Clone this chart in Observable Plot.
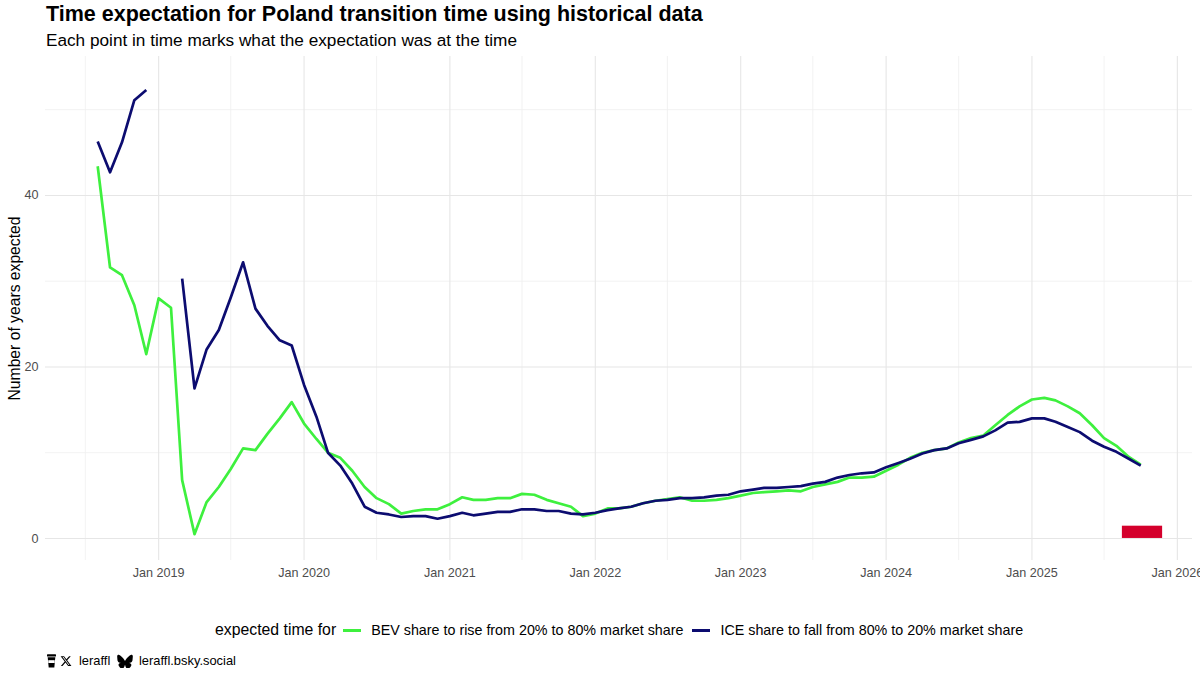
<!DOCTYPE html>
<html>
<head>
<meta charset="utf-8">
<script src="https://cdn.jsdelivr.net/npm/d3@7"></script>
<script src="https://cdn.jsdelivr.net/npm/@observablehq/plot@0.6"></script>
<style>
  html, body { margin: 0; padding: 0; background: #fff; overflow: hidden; }
  body { font-family: "Liberation Sans", Arial, Helvetica, sans-serif; color: #000; }
  #page { position: relative; width: 1200px; height: 675px; }
  .abs { position: absolute; white-space: nowrap; line-height: 1; }
  #title { left: 46px; top: 4px; font-size: 21.5px; font-weight: bold; }
  #subtitle { left: 46px; top: 31.5px; font-size: 17.2px; }
  #chart { position: absolute; left: 0; top: 52px; }
  #legend { left: 215px; top: 620px; height: 20px; display: flex; align-items: center; }
  #legend .ttl { font-size: 15.8px; }
  #legend .lab { font-size: 14.3px; margin-left: 10px; }
  #legend .key { display: inline-block; width: 18px; height: 3px; }
  .cap { font-size: 12.9px; }
</style>
</head>
<body>
<div id="page">
  <div id="title" class="abs">Time expectation for Poland transition time using historical data</div>
  <div id="subtitle" class="abs">Each point in time marks what the expectation was at the time</div>
  <div id="chart"></div>
  <div id="legend" class="abs"></div>
  <div id="caption"></div>
</div>
<script>
// ---- data ----
const months = [
  "2018-08","2018-09","2018-10","2018-11","2018-12",
  "2019-01","2019-02","2019-03","2019-04","2019-05","2019-06","2019-07","2019-08","2019-09","2019-10","2019-11","2019-12",
  "2020-01","2020-02","2020-03","2020-04","2020-05","2020-06","2020-07","2020-08","2020-09","2020-10","2020-11","2020-12",
  "2021-01","2021-02","2021-03","2021-04","2021-05","2021-06","2021-07","2021-08","2021-09","2021-10","2021-11","2021-12",
  "2022-01","2022-02","2022-03","2022-04","2022-05","2022-06","2022-07","2022-08","2022-09","2022-10","2022-11","2022-12",
  "2023-01","2023-02","2023-03","2023-04","2023-05","2023-06","2023-07","2023-08","2023-09","2023-10","2023-11","2023-12",
  "2024-01","2024-02","2024-03","2024-04","2024-05","2024-06","2024-07","2024-08","2024-09","2024-10","2024-11","2024-12",
  "2025-01","2025-02","2025-03","2025-04","2025-05","2025-06","2025-07","2025-08","2025-09","2025-10"
];
const bevYears = [
  43.4, 31.6, 30.7, 27.2, 21.5,
  28.0, 26.9, 6.8, 0.5, 4.2, 6.0, 8.1, 10.5, 10.3, 12.2, 14.0, 15.9,
  13.4, 11.6, 10.0, 9.4, 7.9, 6.0, 4.7, 4.0, 2.9, 3.2, 3.4, 3.4,
  4.0, 4.8, 4.5, 4.5, 4.7, 4.7, 5.2, 5.1, 4.5, 4.1, 3.7, 2.6,
  2.9, 3.5, 3.5, 3.7, 4.1, 4.4, 4.6, 4.8, 4.4, 4.4, 4.5, 4.7,
  5.0, 5.3, 5.4, 5.5, 5.6, 5.5, 6.0, 6.3, 6.6, 7.1, 7.1, 7.2,
  7.9, 8.6, 9.4, 10.0, 10.3, 10.5, 11.2, 11.7, 12.0, 13.2, 14.4, 15.4,
  16.2, 16.4, 16.1, 15.4, 14.6, 13.2, 11.7, 10.8, 9.5, 8.6
];
const iceYears = [
  46.3, 42.7, 46.2, 51.1, 52.3,
  NaN, NaN, 30.3, 17.5, 22.0, 24.3, 28.1, 32.2, 26.8, 24.8, 23.1, 22.5,
  17.9, 14.2, 10.0, 8.5, 6.4, 3.7, 3.0, 2.8, 2.5, 2.6, 2.6, 2.3,
  2.6, 3.0, 2.7, 2.9, 3.1, 3.1, 3.4, 3.4, 3.2, 3.2, 2.9, 2.8,
  3.0, 3.3, 3.5, 3.7, 4.1, 4.4, 4.5, 4.7, 4.7, 4.8, 5.0, 5.1,
  5.5, 5.7, 5.9, 5.9, 6.0, 6.1, 6.4, 6.6, 7.1, 7.4, 7.6, 7.7,
  8.3, 8.8, 9.3, 9.9, 10.3, 10.5, 11.1, 11.5, 11.9, 12.6, 13.5, 13.6,
  14.0, 14.0, 13.6, 13.0, 12.4, 11.4, 10.7, 10.1, 9.3, 8.5
];
const seriesNames = [
  "BEV share to rise from 20% to 80% market share",
  "ICE share to fall from 80% to 20% market share"
];
const seriesColors = ["#3ef03e", "#0c0c70"];
const legendTitle = "expected time for";
const xTickDates = ["2019-01-01","2020-01-01","2021-01-01","2022-01-01","2023-01-01","2024-01-01","2025-01-01","2026-01-01"];
const xMinorDates = ["2018-07-01","2019-07-01","2020-07-01","2021-07-01","2022-07-01","2023-07-01","2024-07-01","2025-07-01"];
const yTicks = [0, 20, 40];
const yMinor = [10, 30, 50];
const markerStart = ["2025-08-16"];
const markerEnd = ["2025-11-25"];
const markerTop = [1.43];
const markerColor = "#d4002c";
const yTitle = "Number of years expected";
const xDomain = ["2018-03-23", "2026-02-08"];
const yDomain = [-2.57, 56.2];

// ---- build tidy table ----
const parseMonth = d3.utcParse("%Y-%m");
const rows = [];
months.forEach((m, i) => {
  rows.push({date: parseMonth(m), value: bevYears[i], series: seriesNames[0]});
});
months.forEach((m, i) => {
  rows.push({date: parseMonth(m), value: iceYears[i], series: seriesNames[1]});
});
const pd = s => new Date(s + "T00:00:00Z");
const marker = markerStart.map((s, i) => ({x1: pd(s), x2: pd(markerEnd[i]), y1: 0, y2: markerTop[i]}));

const plot = Plot.plot({
  width: 1200,
  height: 538,
  marginTop: 4,
  marginBottom: 30,
  marginLeft: 45,
  marginRight: 8,
  style: {fontFamily: '"Liberation Sans", Arial, Helvetica, sans-serif', background: "transparent"},
  x: {type: "utc", domain: xDomain.map(pd), axis: null},
  y: {domain: yDomain, axis: null},
  color: {domain: seriesNames, range: seriesColors},
  marks: [
    Plot.ruleX(xMinorDates.map(pd), {stroke: "#efefef", strokeWidth: 0.8}),
    Plot.ruleY(yMinor, {stroke: "#efefef", strokeWidth: 0.8}),
    Plot.ruleX(xTickDates.map(pd), {stroke: "#e6e6e6", strokeWidth: 1.1}),
    Plot.ruleY(yTicks, {stroke: "#e6e6e6", strokeWidth: 1.1}),
    Plot.axisX({ticks: xTickDates.map(pd), tickFormat: d3.utcFormat("%b %Y"), tickSize: 0, tickPadding: 7.5, fontSize: 12.6, fill: "#4d4d4d", label: null}),
    Plot.axisY({ticks: yTicks, tickSize: 0, tickPadding: 7, fontSize: 12.6, fill: "#4d4d4d", label: null}),
    Plot.text([yTitle], {frameAnchor: "left", textAnchor: "middle", dx: -31, rotate: -90, fontSize: 15.7, fill: "#000"}),
    Plot.rect(marker, {x1: "x1", x2: "x2", y1: "y1", y2: "y2", fill: markerColor}),
    Plot.line(rows, {x: "date", y: "value", z: "series", stroke: "series", strokeWidth: 2.7, strokeLinejoin: "round", strokeLinecap: "butt"})
  ]
});
document.getElementById("chart").appendChild(plot);

// ---- legend ----
const leg = document.getElementById("legend");
const t = document.createElement("span"); t.className = "ttl"; t.textContent = legendTitle; leg.appendChild(t);
seriesNames.forEach((name, i) => {
  const k = document.createElement("span"); k.className = "key";
  k.style.background = seriesColors[i];
  k.style.marginLeft = i === 0 ? "7px" : "9px";
  leg.appendChild(k);
  const l = document.createElement("span"); l.className = "lab"; l.textContent = name; leg.appendChild(l);
});

// ---- caption ----
const cap = document.getElementById("caption");
cap.innerHTML = `
  <svg class="abs" style="left:47px;top:654px" width="9" height="14" viewBox="0 0 9 14">
    <rect x="0" y="0.3" width="9" height="2.2" rx="0.6" fill="#000"/>
    <path d="M0.7 3.3 H8.3 L7.3 13.6 H1.7 Z" fill="#000"/>
    <rect x="1.3" y="6.2" width="6.4" height="2.8" fill="#fff"/>
  </svg>
  <svg class="abs" style="left:59.5px;top:655px" width="12" height="12" viewBox="0 0 24 24">
    <path fill="#000" d="M18.244 2.25h3.308l-7.227 8.26 8.502 11.24H16.17l-5.214-6.817L4.99 21.75H1.68l7.73-8.835L1.254 2.25H8.08l4.713 6.231zm-1.161 17.52h1.833L7.084 4.126H5.117z"/>
  </svg>
  <div class="abs cap" style="left:79px;top:654.5px">leraffl</div>
  <svg class="abs" style="left:117px;top:654px" width="16" height="14" viewBox="0 0 24 21.5">
    <path fill="#000" d="M12 10.8c-1.087-2.114-4.046-6.053-6.798-7.995C2.566.944 1.561 1.266.902 1.565.139 1.908 0 3.08 0 3.768c0 .69.378 5.65.624 6.479.815 2.736 3.713 3.66 6.383 3.364-3.912.58-7.387 2.005-2.83 7.078 5.013 5.19 6.87-1.113 7.823-4.308.953 3.195 2.05 9.271 7.733 4.308 4.267-4.308 1.172-6.498-2.74-7.078 2.67.297 5.568-.628 6.383-3.364.246-.828.624-5.79.624-6.478 0-.69-.139-1.861-.902-2.206-.659-.298-1.664-.62-4.3 1.24C16.046 4.748 13.087 8.687 12 10.8Z"/>
  </svg>
  <div class="abs cap" style="left:139px;top:654.5px">leraffl.bsky.social</div>
`;
</script>
</body>
</html>
